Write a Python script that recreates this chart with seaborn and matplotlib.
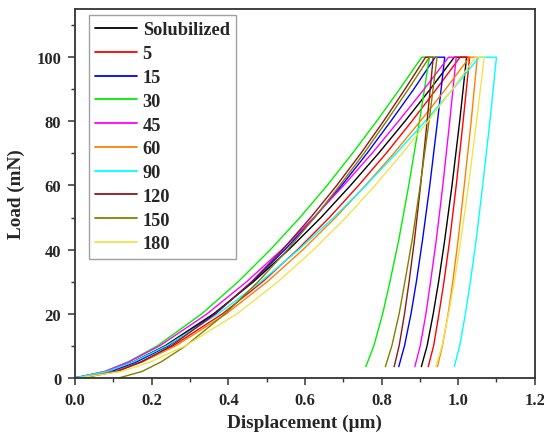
import matplotlib
matplotlib.use("Agg")
import matplotlib.pyplot as plt
import matplotlib.ticker as mticker
import pandas as pd
import seaborn as sns

# ── Data ─────────────────────────────────────────────────────────────────────
# load path shared by every curve: loading, hold at 100 mN, unloading
load_path = [0, 2, 5, 10, 20, 30, 40, 50, 60, 70, 80, 90, 100,
             100, 80, 60, 43, 30, 20, 10, 3.5]

samples = ["Solubilized", "5", "15", "30", "45", "60", "90", "120", "150", "180"]
colors = ["#000000", "#FF0000", "#0000FF", "#00EE00", "#FF00FF",
          "#FF8000", "#00FFFF", "#8B1A1A", "#808000", "#F2E34A"]

disp_sol = [0, 0.086, 0.152, 0.235, 0.362, 0.466, 0.558, 0.642, 0.719, 0.792, 0.861, 0.927, 0.99,
            1.022, 1.004, 0.984, 0.965, 0.949, 0.935, 0.919, 0.904]
disp_5 = [0.01, 0.103, 0.172, 0.256, 0.385, 0.490, 0.581, 0.664, 0.740, 0.812, 0.879, 0.943, 1.005,
          1.03, 1.013, 0.995, 0.978, 0.963, 0.950, 0.936, 0.922]
disp_15 = [0, 0.094, 0.161, 0.243, 0.365, 0.463, 0.548, 0.625, 0.696, 0.762, 0.824, 0.884, 0.94,
           0.965, 0.946, 0.926, 0.907, 0.891, 0.877, 0.860, 0.845]
disp_30 = [0, 0.078, 0.139, 0.215, 0.331, 0.426, 0.510, 0.587, 0.658, 0.724, 0.787, 0.847, 0.905,
           0.925, 0.899, 0.871, 0.845, 0.822, 0.803, 0.780, 0.759]
disp_45 = [0, 0.078, 0.141, 0.221, 0.345, 0.448, 0.540, 0.623, 0.701, 0.775, 0.844, 0.911, 0.975,
           0.995, 0.978, 0.960, 0.943, 0.928, 0.916, 0.901, 0.887]
disp_60 = [0.01, 0.105, 0.176, 0.263, 0.395, 0.502, 0.595, 0.680, 0.758, 0.832, 0.901, 0.967, 1.03,
           1.05, 1.034, 1.016, 1.000, 0.986, 0.974, 0.959, 0.946]
disp_90 = [0, 0.085, 0.153, 0.239, 0.374, 0.485, 0.584, 0.675, 0.759, 0.838, 0.914, 0.986, 1.055,
           1.10, 1.083, 1.064, 1.047, 1.032, 1.019, 1.004, 0.99]
disp_120 = [0.02, 0.110, 0.174, 0.251, 0.367, 0.461, 0.542, 0.615, 0.683, 0.746, 0.805, 0.861, 0.915,
            0.935, 0.919, 0.902, 0.886, 0.872, 0.860, 0.846, 0.833]
disp_150 = [0.115, 0.175, 0.225, 0.289, 0.392, 0.478, 0.555, 0.625, 0.691, 0.754, 0.813, 0.870, 0.925,
            0.945, 0.924, 0.901, 0.880, 0.861, 0.846, 0.827, 0.810]
disp_180 = [0.01, 0.121, 0.197, 0.288, 0.423, 0.530, 0.623, 0.707, 0.783, 0.854, 0.921, 0.985, 1.045,
            1.068, 1.048, 1.027, 1.007, 0.990, 0.975, 0.958, 0.942]

displacements = [disp_sol, disp_5, disp_15, disp_30, disp_45,
                 disp_60, disp_90, disp_120, disp_150, disp_180]

# ── Long table for seaborn ───────────────────────────────────────────────────
rows = []
for name, disp in zip(samples, displacements):
    for i, (x, y) in enumerate(zip(disp, load_path)):
        rows.append({"sample": name, "order": i, "disp": x, "load": y})
df = pd.DataFrame(rows)

# ── Style ────────────────────────────────────────────────────────────────────
sns.set_theme(style="ticks")
plt.rcParams["font.family"] = ["Liberation Serif", "DejaVu Serif"]
plt.rcParams["font.weight"] = "bold"

fig, ax = plt.subplots(figsize=(5.44, 4.39), dpi=100)
fig.subplots_adjust(left=0.138, right=0.983, top=0.977, bottom=0.137)

sns.lineplot(data=df, x="disp", y="load", hue="sample", hue_order=samples,
             palette=colors, sort=False, estimator=None, linewidth=1.0, ax=ax)

ax.set_xlim(0, 1.2)
ax.set_ylim(0, 115)
ax.xaxis.set_major_locator(mticker.MultipleLocator(0.2))
ax.xaxis.set_minor_locator(mticker.MultipleLocator(0.1))
ax.yaxis.set_major_locator(mticker.FixedLocator([0, 20, 40, 60, 80, 100]))
ax.yaxis.set_minor_locator(mticker.MultipleLocator(10))
ax.xaxis.set_major_formatter(mticker.FormatStrFormatter("%.1f"))

ax.tick_params(which="major", direction="out", length=5, width=1.1, pad=5,
               labelsize=12, top=False, right=False, color="#333333")
ax.tick_params(which="minor", direction="out", length=3, width=1.0,
               top=False, right=False, color="#333333")
for lab in ax.get_xticklabels() + ax.get_yticklabels():
    lab.set_fontweight("bold")
for sp in ax.spines.values():
    sp.set_linewidth(1.3)
    sp.set_color("#333333")

ax.set_xlabel("Displacement (µm)", fontsize=13.8, fontweight="bold", labelpad=4)
ax.set_ylabel("Load (mN)", fontsize=13.8, fontweight="bold", labelpad=8)

handles, labels = ax.get_legend_handles_labels()
leg = ax.legend(handles, labels, loc="upper left", bbox_to_anchor=(0.03, 0.984),
                frameon=True, fancybox=False, edgecolor="#888888",
                prop={"weight": "bold", "size": 13.2},
                handlelength=2.3, handletextpad=0.28, labelspacing=0.37,
                borderpad=0.35, borderaxespad=0.0)
leg.get_frame().set_linewidth(1.0)
for line in leg.get_lines():
    line.set_linewidth(1.3)

fig.savefig("out.png", dpi=100)
